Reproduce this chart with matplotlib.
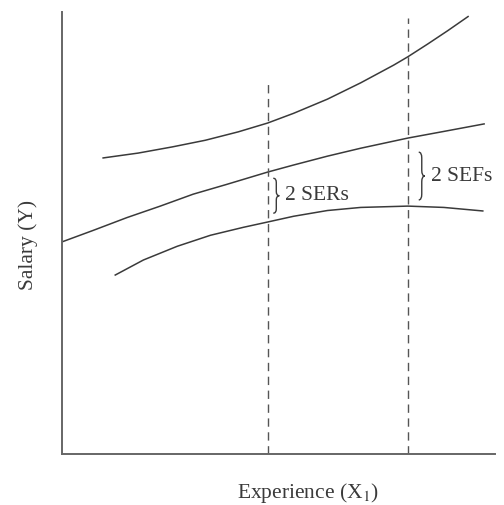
import matplotlib
matplotlib.use("Agg")
import matplotlib.pyplot as plt
from matplotlib.path import Path
from matplotlib.patches import PathPatch

plt.rcParams['font.family'] = ['Liberation Serif', 'DejaVu Serif']
plt.rcParams['mathtext.fontset'] = 'stix'

# Curves (x = experience, y = salary, arbitrary units 0-10)
upper_x = [0.95, 1.76, 2.55, 3.31, 4.07, 4.75, 5.35, 6.13, 6.90, 7.66, 7.99, 8.45, 8.91, 9.38]
upper_y = [6.70, 6.81, 6.95, 7.10, 7.29, 7.49, 7.71, 8.03, 8.40, 8.80, 8.99, 9.28, 9.58, 9.90]

fit_x = [0.0, 0.72, 1.50, 2.27, 3.03, 3.80, 4.75, 5.35, 6.13, 6.90, 7.99, 8.82, 9.75]
fit_y = [4.80, 5.06, 5.35, 5.61, 5.88, 6.10, 6.38, 6.54, 6.74, 6.92, 7.15, 7.30, 7.47]

lower_x = [1.23, 1.88, 2.66, 3.43, 4.19, 4.75, 5.35, 6.13, 6.90, 7.99, 8.82, 9.72]
lower_y = [4.05, 4.39, 4.70, 4.95, 5.13, 5.25, 5.38, 5.51, 5.58, 5.61, 5.58, 5.50]

# dashed reference lines: x position and top
ref_x = [4.75, 7.99]
ref_top = [8.48, 9.86]

# braces: x, bottom, top, label
brace_x = [4.88, 8.24]
brace_lo = [5.45, 5.75]
brace_hi = [6.24, 6.83]
brace_labels = ['2 SERs', '2 SEFs']

ink = '#3a3a3a'


def brace(ax, x, lo, hi, w=0.14):
    # right-facing curly brace between lo and hi
    ym = (lo + hi) / 2
    q = (hi - lo) * 0.12
    xm = x + w / 2
    verts = [(x, hi), (xm, hi), (xm, hi - q),
             (xm, ym + q), (xm, ym), (x + w, ym),
             (xm, ym), (xm, ym - q),
             (xm, lo + q), (xm, lo), (x, lo)]
    codes = [Path.MOVETO, Path.CURVE3, Path.CURVE3,
             Path.LINETO, Path.CURVE3, Path.CURVE3,
             Path.CURVE3, Path.CURVE3,
             Path.LINETO, Path.CURVE3, Path.CURVE3]
    ax.add_patch(PathPatch(Path(verts, codes), fill=False, edgecolor=ink, lw=1.0))


fig = plt.figure(figsize=(5.04, 5.05), dpi=100)
ax = fig.add_axes([0.123, 0.101, 0.859, 0.875])

ax.plot(upper_x, upper_y, color=ink, lw=1.1)
ax.plot(fit_x, fit_y, color=ink, lw=1.1)
ax.plot(lower_x, lower_y, color=ink, lw=1.1)

for xv, top in zip(ref_x, ref_top):
    ax.vlines(xv, 0, top, colors='#555555', linestyles=(0, (6, 4)), lw=1.0)

for xv, lo, hi, lab in zip(brace_x, brace_lo, brace_hi, brace_labels):
    brace(ax, xv, lo, hi)
    ax.text(xv + 0.28, (lo + hi) / 2, lab, fontsize=15.5, color=ink,
            va='center', ha='left')

ax.set_xlim(0, 10)
ax.set_ylim(0, 10)
ax.set_xticks([])
ax.set_yticks([])
for side in ['top', 'right']:
    ax.spines[side].set_visible(False)
for side in ['left', 'bottom']:
    ax.spines[side].set_color('#666666')
    ax.spines[side].set_linewidth(1.4)

fig.text(0.056, 0.515, 'Salary (Y)', rotation=90, fontsize=15.5, color=ink,
         ha='center', va='center')
fig.text(0.611, 0.024, r'Experience (X$_1$)', fontsize=15.5, color=ink,
         ha='center', va='center')

fig.savefig('out.png', dpi=100, facecolor='white')
